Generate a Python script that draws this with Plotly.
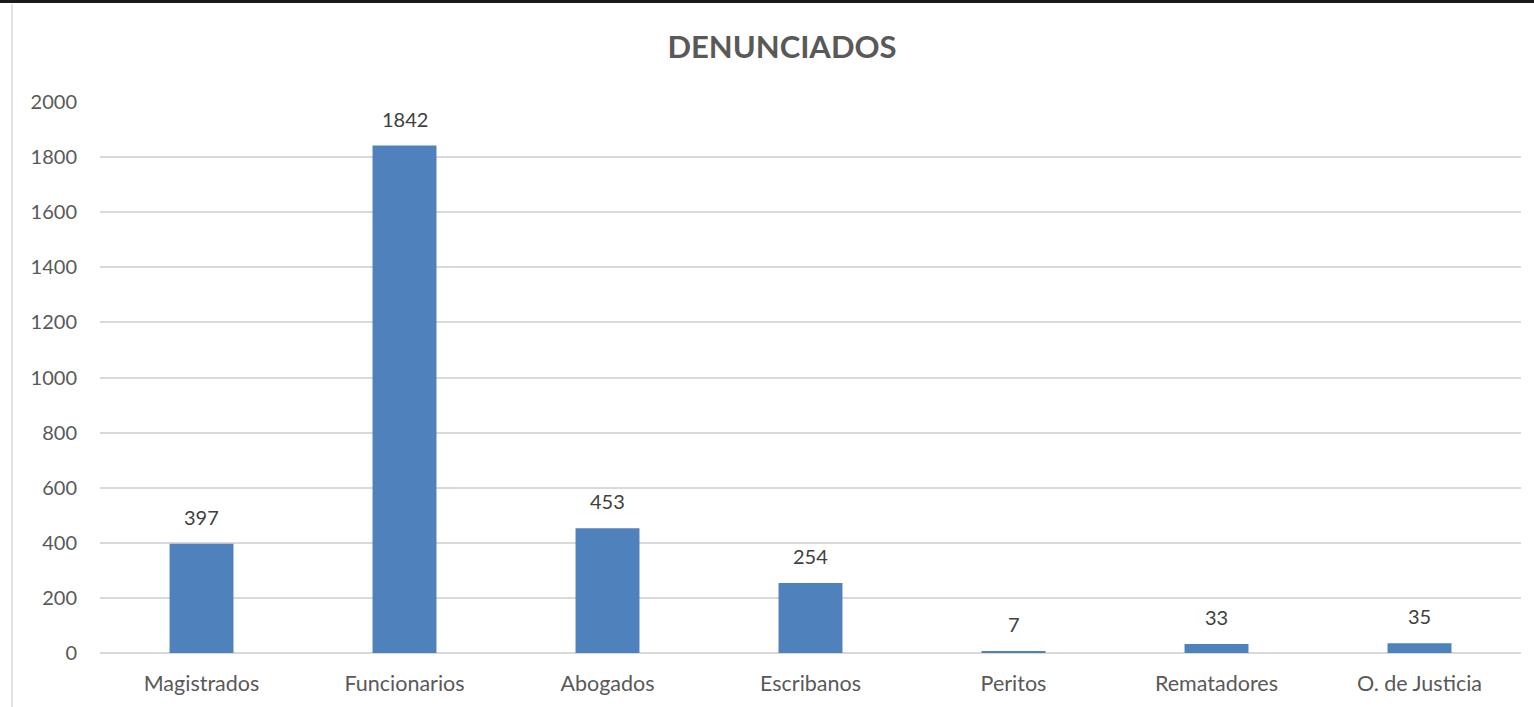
import plotly.graph_objects as go

categories = ["Magistrados", "Funcionarios", "Abogados", "Escribanos", "Peritos", "Rematadores", "O. de Justicia"]
values = [397, 1842, 453, 254, 7, 33, 35]
y_ticks = [0, 200, 400, 600, 800, 1000, 1200, 1400, 1600, 1800, 2000]

W, H = 1534, 707
L, R, T, B = 100, 13, 102, 54
pw, ph = W - L - R, H - T - B
FONT = "Lato"

def px_x(x):
    return (x - L) / pw

def px_y(y):
    return (H - B - y) / ph

fig = go.Figure(go.Bar(
    x=categories, y=values, width=0.315,
    marker=dict(color="#4F81BD", line=dict(width=0)),
))

for c, v in zip(categories, values):
    fig.add_annotation(x=c, y=v, text=str(v), showarrow=False, yanchor="middle", yshift=27,
                       font=dict(size=20, color="#404040", family=FONT))

fig.update_layout(
    width=W, height=H,
    margin=dict(l=L, r=R, t=T, b=B, autoexpand=False),
    paper_bgcolor="white", plot_bgcolor="white",
    font=dict(family=FONT, color="#595959"),
    title=dict(text="<b>DENUNCIADOS</b>", x=px_x(782), xref="paper", xanchor="center",
               y=1 - 47 / H, yanchor="middle", font=dict(size=31, color="#595959", family=FONT)),
    showlegend=False,
    xaxis=dict(showgrid=False, showline=False, ticks="", ticklabelstandoff=15, automargin=False,
               tickfont=dict(size=21.5, color="#595959")),
    yaxis=dict(range=[0, 2000], tickvals=y_ticks, showgrid=True, gridcolor="#D9D9D9", gridwidth=1.5,
               zeroline=True, zerolinecolor="#D9D9D9", zerolinewidth=1.5, automargin=False,
               ticks="", ticklabelstandoff=22, tickfont=dict(size=20, color="#595959")),
    shapes=[
        dict(type="line", xref="paper", yref="paper", x0=px_x(0), x1=px_x(W), y0=px_y(1.5), y1=px_y(1.5),
             line=dict(color="#1a1a1a", width=3)),
        dict(type="line", xref="paper", yref="paper", x0=px_x(12), x1=px_x(12), y0=px_y(4), y1=px_y(H),
             line=dict(color="#D9D9D9", width=1.5)),
    ],
)

fig.write_html("out.html", config={"displayModeBar": False},
               post_script="document.body.style.margin='0';")
